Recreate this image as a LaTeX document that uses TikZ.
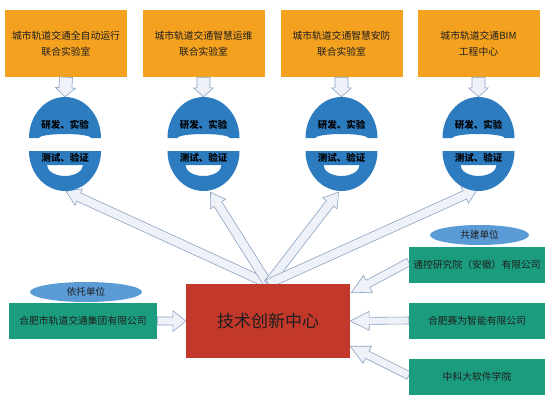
\documentclass[tikz,border=0pt]{standalone}
\usepackage{fontspec}
\setmainfont{Noto Sans CJK SC}
\usetikzlibrary{calc,shapes.geometric}
\definecolor{boxorange}{RGB}{243,161,30}
\definecolor{ringblue}{RGB}{46,124,192}
\definecolor{boxgreen}{RGB}{27,156,126}
\definecolor{boxred}{RGB}{194,57,43}
\definecolor{ellblue}{RGB}{91,155,213}
\definecolor{arrfill}{RGB}{238,242,248}
\definecolor{arrline}{RGB}{138,163,195}
\definecolor{txtdark}{RGB}{30,30,30}
\tikzset{
  arrowstyle/.style={fill=arrfill,draw=arrline,line width=0.6bp,line join=miter},
  topbox/.style={fill=boxorange,minimum width=122bp,minimum height=67bp,inner sep=0pt,align=center,font=\fontsize{9.8bp}{16bp}\selectfont,text=txtdark},
  greenbox/.style={fill=boxgreen,minimum height=36bp,inner sep=0pt,font=\fontsize{9.8bp}{12bp}\selectfont,text=txtdark},
  ringnode/.style={ellipse,minimum width=72bp,minimum height=94bp,inner sep=0pt},
  ringtxt/.style={font=\bfseries\fontsize{9.5bp}{11bp}\selectfont,text=black,inner sep=0pt},
  labell/.style={ellipse,fill=ellblue,inner sep=0pt,minimum height=20bp,font=\fontsize{9.6bp}{11bp}\selectfont,text=txtdark},
}
\newcommand\blockarr[5]{%
  \coordinate (ba-h) at ($(#2)!#5!(#1)$);
  \filldraw[arrowstyle] ($(#1)!#3!90:(#2)$) -- ($(ba-h)!#3!-90:(#1)$) -- ($(ba-h)!#4!-90:(#1)$) -- (#2) -- ($(ba-h)!#4!90:(#1)$) -- ($(ba-h)!#3!90:(#1)$) -- ($(#1)!#3!-90:(#2)$) -- cycle;
}
\begin{document}
\begin{tikzpicture}[x=1bp,y=-1bp]
\useasboundingbox[fill=white] (0,0) rectangle (558,402);
% nodes (positions)
\node[topbox] (b1) at (66,43.5) {城市轨道交通全自动运行\\联合实验室};
\node[topbox] (b2) at (203.5,43.5) {城市轨道交通智慧运维\\联合实验室};
\node[topbox] (b3) at (341.5,43.5) {城市轨道交通智慧安防\\联合实验室};
\node[topbox] (b4) at (478.5,43.5) {城市轨道交通BIM\\工程中心};
\foreach \i/\cx in {1/65,2/203.5,3/341.5,4/478.5}{
  \node[ringnode] (r\i) at (\cx,144) {};
}
\node[minimum width=164bp,minimum height=74bp,inner sep=0pt] (c) at (268,321) {};
\node[greenbox,minimum width=148bp] (bl) at (83,321) {};
\node[greenbox,minimum width=136bp] (bA) at (477,265) {};
\node[greenbox,minimum width=136bp] (bB) at (477,320.5) {};
\node[greenbox,minimum width=136bp] (bC) at (477,376.5) {};
% connectors
\foreach \i in {1,2,3,4}{
  \blockarr{b\i.south}{r\i.north}{6.5bp}{10bp}{9bp}
}
\coordinate (t1) at ($(r1.south)+(1,0)$);
\coordinate (t2) at ($(r2.south)+(7,1)$);
\coordinate (t3) at ($(r3.south)+(-3,1)$);
\coordinate (t4) at ($(r4.south)+(-1,-2)$);
\foreach \i in {1,2,3,4}{
  \blockarr{c.north}{t\i}{4.5bp}{9bp}{14bp}
}
\blockarr{bl.east}{c.west}{4bp}{10.5bp}{13bp}
\coordinate (tA) at ($(c.north east)+(1,9)$);
\coordinate (tC) at ($(c.south east)+(0,-12)$);
\coordinate (sA) at ($(bA.west)+(0,-3)$);
\coordinate (sC) at ($(bC.west)+(0,-1)$);
\blockarr{sA}{tA}{4bp}{9.5bp}{19bp}
\blockarr{bB.west}{c.east}{3.5bp}{9.5bp}{19bp}
\blockarr{sC}{tC}{4bp}{9.5bp}{19bp}
% rings
\foreach \i/\cx in {1/65,2/203.5,3/341.5,4/478.5}{
  \begin{scope}[shift={(\cx,0)}]
    \fill[ringblue] (-36,138) arc[start angle=180,end angle=360,x radius=36,y radius=41] -- (26,138) arc[start angle=0,end angle=-180,x radius=26,y radius=4] -- cycle;
    \fill[ringblue,even odd rule] (-36,151) -- (36,151) arc[start angle=0,end angle=180,x radius=36,y radius=40] -- cycle
      (-18,165) -- (18,165) arc[start angle=0,end angle=180,x radius=18,y radius=11] -- cycle;
    \node[ringtxt] (ra\i) at (0,125) {研发、实验};
    \node[ringtxt] (rb\i) at (0,158) {测试、验证};
  \end{scope}
}
% boxes drawn on top
\node[fill=boxred,minimum width=164bp,minimum height=74bp,inner sep=0pt,font=\fontsize{17bp}{20bp}\selectfont,text=txtdark] (cc) at (c) {技术创新中心};
\node[greenbox,minimum width=148bp] (blt) at (bl) {合肥市轨道交通集团有限公司};
\node[greenbox,minimum width=136bp] (bAt) at (bA) {通控研究院（安徽）有限公司};
\node[greenbox,minimum width=136bp] (bBt) at (bB) {合肥赛为智能有限公司};
\node[greenbox,minimum width=136bp] (bCt) at (bC) {中科大软件学院};
\node[labell,minimum width=112bp] (e1) at (86,292) {依托单位};
\node[labell,minimum width=99bp] (e2) at (479.5,235) {共建单位};
\end{tikzpicture}
\end{document}
